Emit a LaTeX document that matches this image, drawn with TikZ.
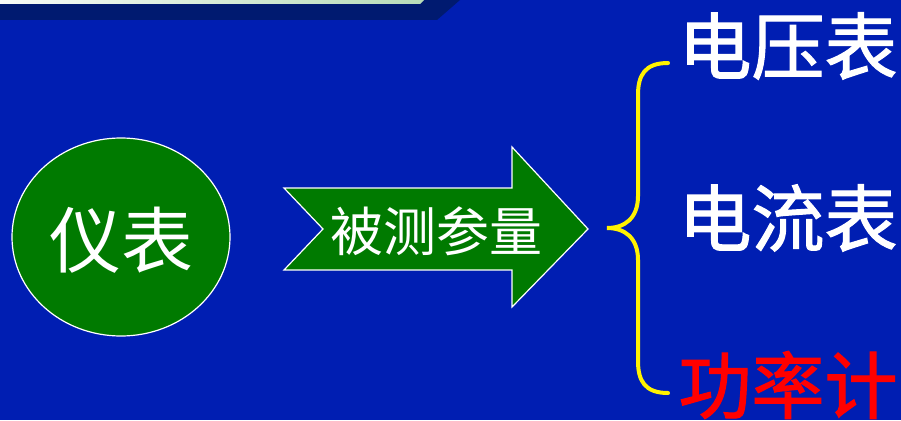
\documentclass[tikz,border=0pt]{standalone}
\usepackage{fontspec}
\usetikzlibrary{shapes.geometric}
\newfontfamily\cjk{Noto Sans CJK SC}
\newfontfamily\cjkfb[FakeBold=1.5]{Noto Sans CJK SC}
\definecolor{bgblue}{RGB}{0,30,178}
\definecolor{navy}{RGB}{0,26,112}
\definecolor{dgreen}{RGB}{0,122,0}
\definecolor{paleg}{RGB}{184,220,184}
\begin{document}
\begin{tikzpicture}[x=1pt,y=-1pt,
  lbl/.style={font=\cjkfb\fontsize{73}{73}\selectfont, inner sep=0pt, anchor=center},
  gshape/.style={fill=dgreen, draw=white, line width=1.2pt}]
\useasboundingbox (0,0) rectangle (901,420);
\fill[bgblue] (0,0) rectangle (901,420);
% top bar
\fill[navy] (0,0) -- (460,0) -- (437,20) -- (0,20) -- cycle;
\shade[left color=white!90!paleg, right color=paleg] (0,0) -- (424,0) -- (420,4) -- (0,4) -- cycle;
% ellipse
\node[gshape, ellipse, minimum width=218pt, minimum height=198pt, inner sep=0pt] (dev) at (121,237) {};
\node[font=\cjk\fontsize{72}{72}\selectfont, text=white, inner sep=0pt] (devt) at (121,240) {仪表};
% arrow
\draw[gshape] (284,188) -- (512,188) -- (512,147) -- (588,229) -- (512,307) -- (512,270) -- (284,270) -- (323,229) -- cycle;
\coordinate (atip) at (588,229);
\node[font=\cjk\fontsize{53}{53}\selectfont, text=white, inner sep=0pt] (param) at (436,231) {被测参量};
% brace
\coordinate (btop) at (668,63);
\coordinate (btip) at (607,228);
\coordinate (bbot) at (668,393);
\draw[yellow, line width=4pt, line cap=round]
  (btop) .. controls (645,63) and (638,75) .. (638,95)
  -- (638,196) .. controls (638,218) and (625,228) .. (btip)
  .. controls (625,228) and (638,238) .. (638,260)
  -- (638,361) .. controls (638,381) and (645,393) .. (bbot);
% labels
\node[lbl, text=white] (v) at (788,46) {电压表};
\node[lbl, text=white] (a) at (788,218) {电流表};
\node[lbl, text=red] (p) at (788,385) {功率计};
\end{tikzpicture}
\end{document}
